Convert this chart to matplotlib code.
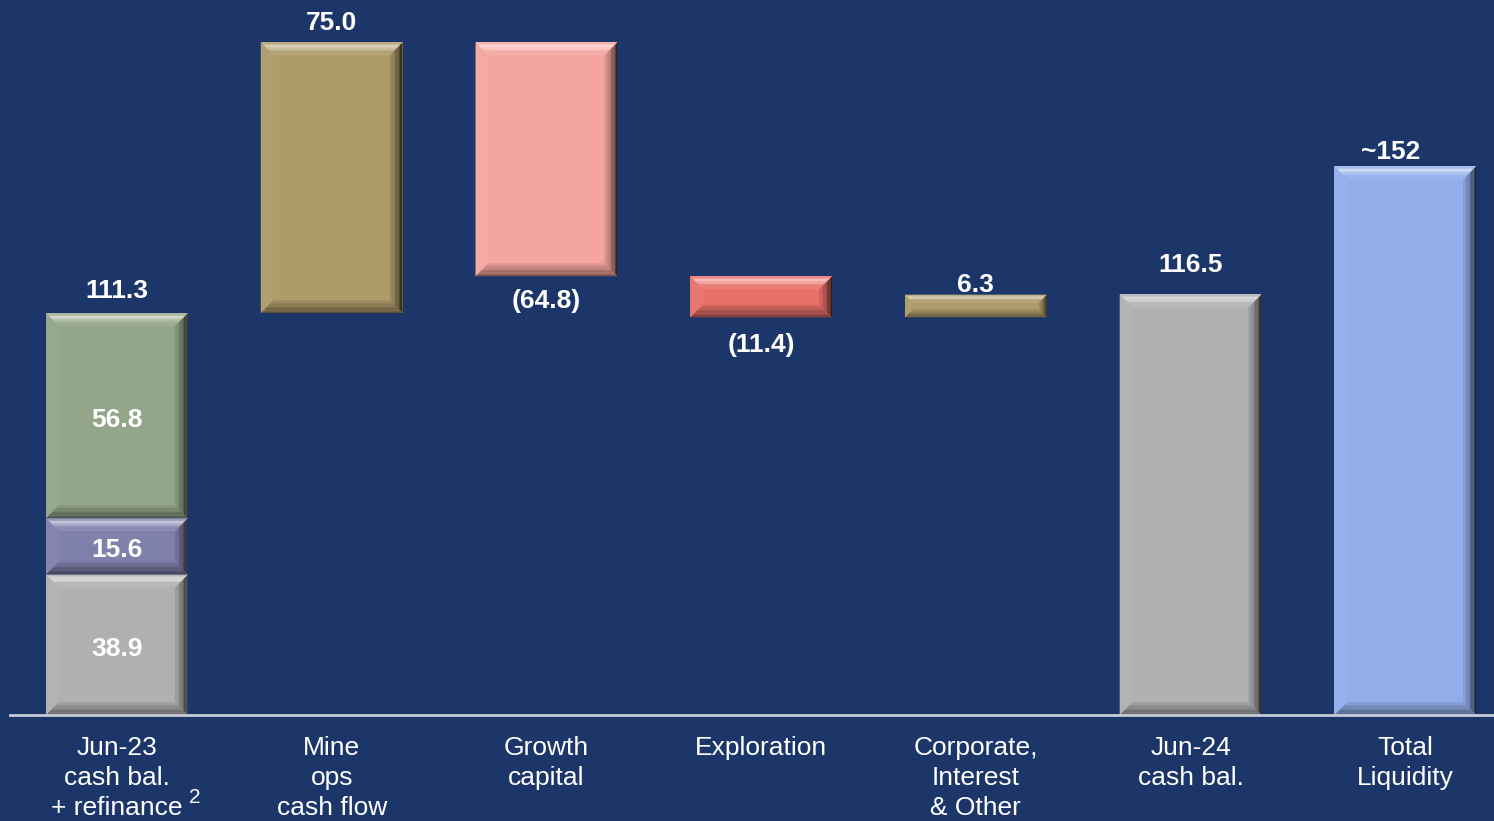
import matplotlib
matplotlib.use("Agg")
import matplotlib.pyplot as plt
import numpy as np
from matplotlib.colors import to_rgb

# --- data -------------------------------------------------------------
categories = [
    "Jun-23\ncash bal.\n+ refinance",
    "Mine\nops\ncash flow",
    "Growth\ncapital",
    "Exploration",
    "Corporate,\nInterest\n& Other",
    "Jun-24\ncash bal.",
    "Total\nLiquidity",
]
opening_parts = [38.9, 15.6, 56.8]
opening_colors = ["#b0b0b0", "#8080ac", "#93a68a"]
changes = [75.0, -64.8, -11.4, 6.3]
change_colors = ["#ad9b69", "#f4a59e", "#e8716a", "#ad9b69"]
closing = 116.5
closing_color = "#b0b0b0"
liquidity = 152
liquidity_color = "#91aeeb"
liquidity_label = "~152"

BG = "#1c3669"
W, H = 1494, 821
DPI = 100
BAR_W = 0.66
FONT = ["Liberation Sans", "DejaVu Sans"]

fig = plt.figure(figsize=(W / DPI, H / DPI), dpi=DPI, facecolor=BG)
# axes: left edge at 10px, baseline at 715px from top
ax = fig.add_axes([10 / W, 106 / H, 1 - 10 / W, 715 / H])
ax.set_facecolor(BG)
ax.set_xlim(-0.498, 6.413)
ax.set_ylim(0, 198.0)
for s in ax.spines.values():
    s.set_visible(False)
ax.set_xticks([])
ax.set_yticks([])

# pixels per data unit
px_x = (W - 10) / (6.413 + 0.498)
px_y = 715 / 198.0


def mix(c, other, a):
    c = np.array(to_rgb(c))
    o = np.array(to_rgb(other))
    return tuple(c * (1 - a) + o * a)


def bevel_bar(x, y0, y1, color, bevel=13):
    if y1 < y0:
        y0, y1 = y1, y0
    x0, x1 = x - BAR_W / 2, x + BAR_W / 2
    h_px = (y1 - y0) * px_y
    b = min(bevel, h_px * 0.36)
    bx, by = b / px_x, b / px_y
    ax.fill([x0, x1, x1, x0], [y0, y0, y1, y1], color=color, lw=0, zorder=2)
    n = 10
    ts = np.linspace(0, 1, n + 1)
    for i in range(n):
        t0, t1 = ts[i], ts[i + 1]
        tm = (t0 + t1) / 2
        # left
        ax.fill([x0 + t0 * bx, x0 + t1 * bx, x0 + t1 * bx, x0 + t0 * bx],
                [y0 + t0 * by, y0 + t1 * by, y1 - t1 * by, y1 - t0 * by],
                color=mix(color, "white", 0.05), lw=0, zorder=3)
        # right
        dark = 0.75 * (1 - tm) ** 1.6 + 0.1
        ax.fill([x1 - t0 * bx, x1 - t1 * bx, x1 - t1 * bx, x1 - t0 * bx],
                [y0 + t0 * by, y0 + t1 * by, y1 - t1 * by, y1 - t0 * by],
                color=mix(color, "black", dark), lw=0, zorder=3)
        # top
        light = 0.5 * np.exp(-((tm - 0.35) / 0.22) ** 2) + 0.1
        ax.fill([x0 + t0 * bx, x1 - t0 * bx, x1 - t1 * bx, x0 + t1 * bx],
                [y1 - t0 * by, y1 - t0 * by, y1 - t1 * by, y1 - t1 * by],
                color=mix(color, "white", light), lw=0, zorder=4)
        # bottom
        dark = 0.45 * (1 - tm) + 0.06
        ax.fill([x0 + t0 * bx, x1 - t0 * bx, x1 - t1 * bx, x0 + t1 * bx],
                [y0 + t0 * by, y0 + t0 * by, y0 + t1 * by, y0 + t1 * by],
                color=mix(color, "black", dark), lw=0, zorder=4)


label_kw = dict(color="white", fontsize=19, fontweight="bold", family=FONT,
                ha="center", va="center", textcoords="offset pixels", zorder=6)

# opening stack
bottom = 0
for v, c in zip(opening_parts, opening_colors):
    bevel_bar(0, bottom, bottom + v, c)
    ax.annotate(f"{v:.1f}", (0, bottom + v / 2), xytext=(0, -4), **label_kw)
    bottom += v
opening = bottom
ax.annotate(f"{opening:.1f}", (0, opening), xytext=(0, 22), **label_kw)

# changes
level = opening
offsets = [19, -25, -28, 10]
for i, (v, c, off) in enumerate(zip(changes, change_colors, offsets), start=1):
    end = level + v
    bevel_bar(i, level, end, c)
    txt = f"{v:.1f}" if v >= 0 else f"({-v:.1f})"
    ax.annotate(txt, (i, max(level, end) if v >= 0 else min(level, end)),
                xytext=(0, off), **label_kw)
    level = end

# closing and liquidity
bevel_bar(5, 0, closing, closing_color)
ax.annotate(f"{closing:.1f}", (5, closing), xytext=(0, 29), **label_kw)
bevel_bar(6, 0, liquidity, liquidity_color)
ax.annotate(liquidity_label, (6, liquidity), xytext=(-15, 14), **label_kw)

# baseline
ax.axhline(0, color="#c8ccd8", lw=2, zorder=5, clip_on=False)

# category labels
for i, name in enumerate(categories):
    ax.annotate(name, (i, 0), xytext=(0, -21), textcoords="offset pixels",
                ha="center", va="top", color="white", fontsize=19,
                family=FONT, linespacing=1.31, annotation_clip=False)
ax.annotate("2", (0, 0), xytext=(78, -82), textcoords="offset pixels",
            ha="center", va="center", color="white", fontsize=15,
            family=FONT, annotation_clip=False)

fig.savefig("out.png", dpi=DPI, facecolor=BG)
